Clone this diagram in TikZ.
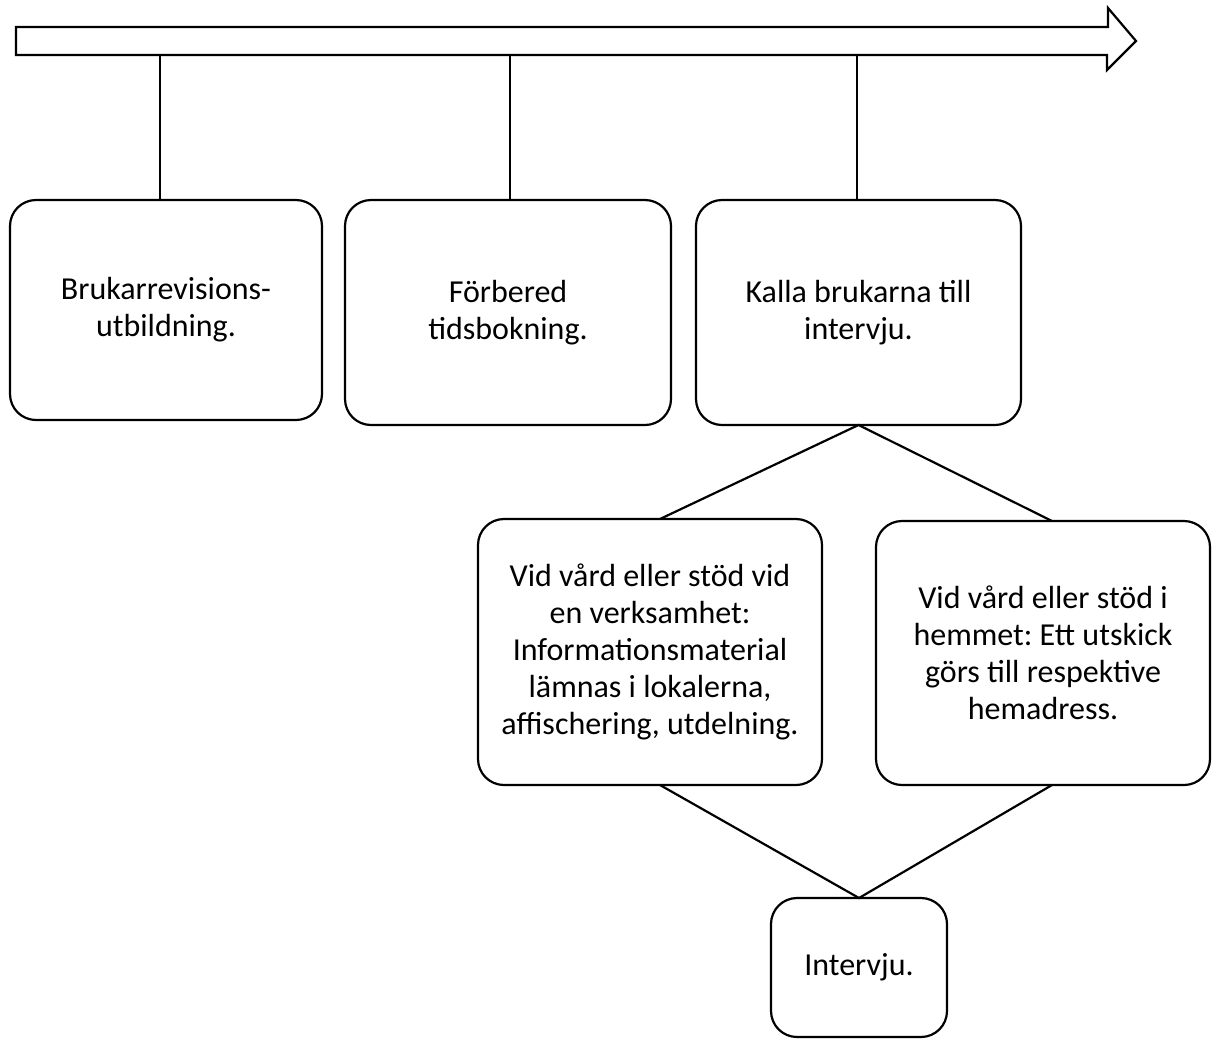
\documentclass[tikz,border=0pt]{standalone}
\usepackage{fontspec}
\setmainfont{Carlito}
\frenchspacing
\begin{document}
\begin{tikzpicture}[x=1pt,y=-1pt,
  line width=2.2pt,
  stepbox/.style={draw, rectangle, rounded corners=26pt, align=center,
    inner sep=0pt, outer sep=0pt,
    font=\fontsize{32}{37}\selectfont\frenchspacing}]
\useasboundingbox (0,0) rectangle (1214,1039);

% timeline arrow
\draw[line join=miter] (16,27) -- (1108,27) -- (1108,8) -- (1136,41) -- (1107,70) -- (1107,55) -- (16,55) -- cycle;
\coordinate (t1) at (160,55);
\coordinate (t2) at (510,55);
\coordinate (t3) at (857,55);

% steps
\node[stepbox, minimum width=312pt, minimum height=220pt] (b1) at (166,310)
  {Brukarrevisions-\\utbildning.};
\node[stepbox, minimum width=326pt, minimum height=225pt] (b2) at (508,312.5)
  {Förbered\\tidsbokning.};
\node[stepbox, minimum width=325pt, minimum height=225pt] (b3) at (858.5,312.5)
  {Kalla brukarna till\\intervju.};
\node[stepbox, minimum width=344pt, minimum height=266pt] (b4) at (650,652)
  {Vid vård eller stöd vid\\en verksamhet:\\Informationsmaterial\\lämnas i lokalerna,\\affischering, utdelning.};
\node[stepbox, minimum width=334pt, minimum height=264pt] (b5) at (1043,653)
  {Vid vård eller stöd i\\hemmet: Ett utskick\\görs till respektive\\hemadress.};
\node[stepbox, minimum width=176pt, minimum height=139pt] (b6) at (859,967.5)
  {Intervju.};

% connectors
\draw (t1) -- (t1 |- b1.north);
\draw (t2) -- (t2 |- b2.north);
\draw (t3) -- (t3 |- b3.north);
\draw ([xshift=10pt]b4.north) -- (b3.south) -- ([xshift=9pt]b5.north);
\draw ([xshift=10pt]b4.south) -- (b6.north) -- ([xshift=9pt]b5.south);
\end{tikzpicture}
\end{document}
